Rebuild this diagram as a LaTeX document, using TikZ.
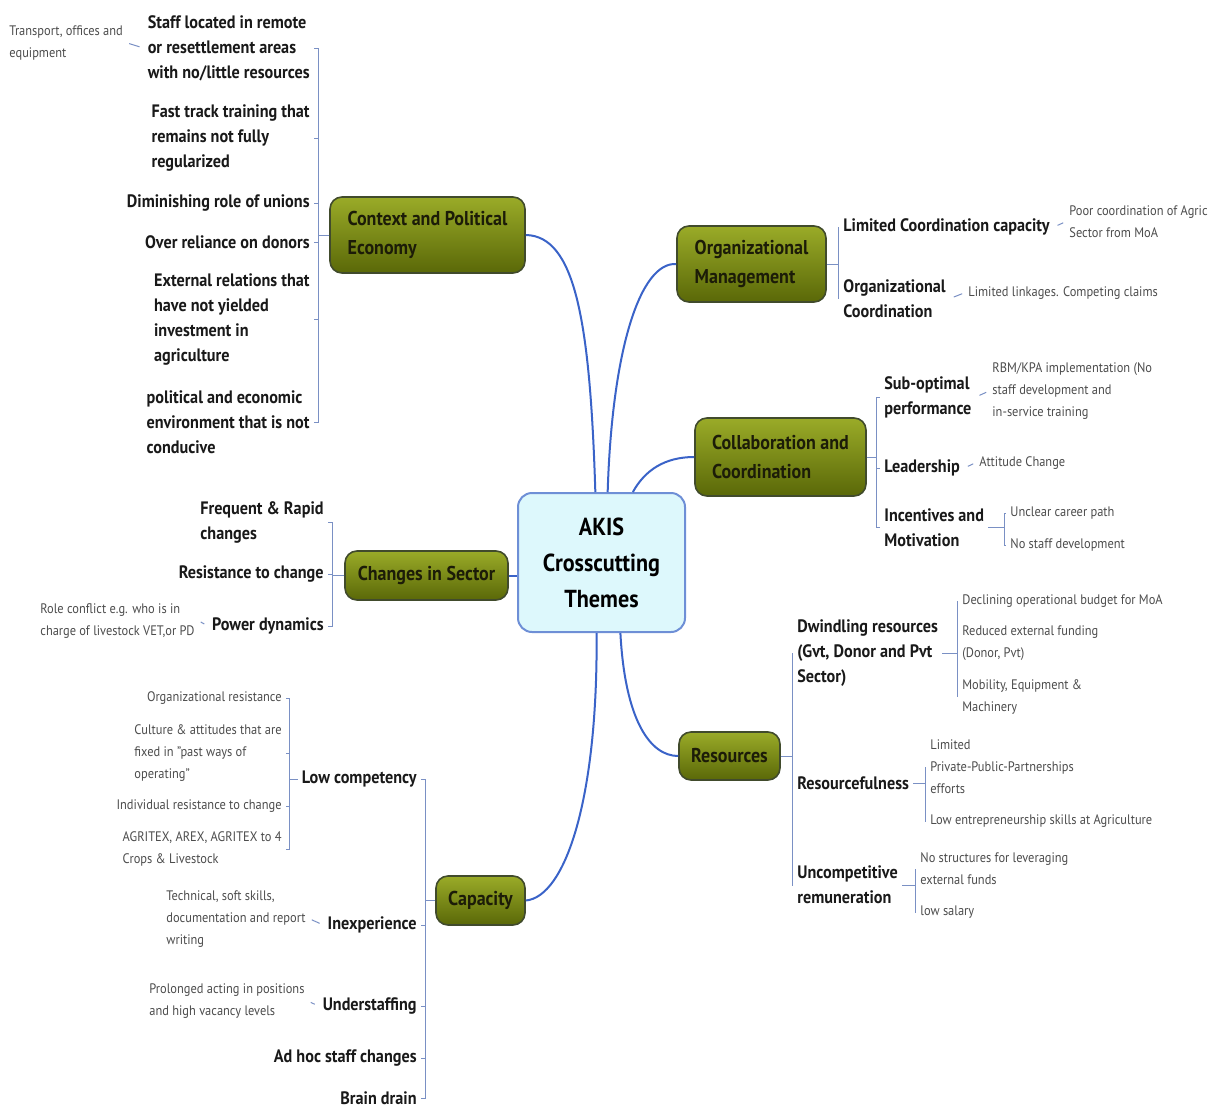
\documentclass[tikz,border=0pt]{standalone}
\usepackage{fontspec}
\setmainfont{PT Sans}[FakeStretch=0.9]
\usetikzlibrary{positioning}

\definecolor{hubfill}{HTML}{DDF8FC}
\definecolor{hubdraw}{HTML}{6E8FD6}
\definecolor{topictop}{HTML}{9AAB28}
\definecolor{topicbot}{HTML}{5A6808}
\definecolor{topicdraw}{HTML}{414B2C}
\definecolor{topictext}{HTML}{1C1C08}
\definecolor{spokeblue}{HTML}{3A63C8}
\definecolor{branchblue}{HTML}{7A90C4}

\tikzset{
  hub/.style={draw=hubdraw, line width=1pt, fill=hubfill, rounded corners=7pt,
    align=center, font=\fontsize{12.3}{18}\selectfont\bfseries,
    minimum width=83.5pt, minimum height=69.5pt},
  topic/.style={draw=topicdraw, line width=0.8pt, top color=topictop, bottom color=topicbot,
    rounded corners=6pt, align=left, text=topictext,
    font=\fontsize{10}{14.5}\selectfont\bfseries},
  sub/.style={inner sep=2pt, align=left, text=black!90,
    font=\fontsize{9}{12.5}\selectfont\bfseries},
  note/.style={inner sep=2pt, align=left, text=black!70,
    font=\fontsize{6.9}{11}\selectfont},
  spoke/.style={draw=spokeblue, line width=1pt},
  branch/.style={draw=branchblue, line width=0.5pt},
  tick/.style={branch, shorten <=2pt, shorten >=1pt},
}

\begin{document}
\begin{tikzpicture}[x=0.5pt, y=-0.5pt]
    \useasboundingbox (0,0) rectangle (1215,1108);

    % Central theme
    \node[hub] (akis) at (601.5,562.5) {AKIS\\Crosscutting\\Themes};

    % Main topics
    \node[topic, minimum width=97.5pt, minimum height=38pt] (ctx) at (427.5,235) {Context and Political\\Economy};
    \node[topic, minimum width=74.5pt, minimum height=38pt] (org) at (751.5,264) {Organizational\\Management};
    \node[topic, minimum width=85.5pt, minimum height=39pt] (collab) at (780.5,457) {Collaboration and\\Coordination};
    \node[topic, minimum width=81.5pt, minimum height=24.5pt] (chg) at (426.5,575.5) {Changes in Sector};
    \node[topic, minimum width=50.5pt, minimum height=24pt] (res) at (729.5,756) {Resources};
    \node[topic, minimum width=44.5pt, minimum height=24.5pt] (cap) at (480.5,900.5) {Capacity};

    % Spokes
    \draw[spoke] (akis.95) .. controls (590,320) and (575,236) .. (ctx.east);
    \draw[spoke] (akis.85.5) .. controls (612,350) and (640,262) .. (org.west);
    \draw[spoke] (akis.66) .. controls (645,470) and (665,457) .. (collab.west);
    \draw[spoke] (chg.east) -- (chg.east -| akis.west);
    \draw[spoke] (akis.-75) .. controls (625,720) and (650,756) .. (res.west);
    \draw[spoke] (akis.-94) .. controls (598,800) and (565,897) .. (cap.east);

    % Context and Political Economy
    \node[sub, anchor=east] (staff) at (314,48) {Staff located in remote\\or resettlement areas\\with no/little resources};
    \node[sub, anchor=east] (fast) at (314,138) {Fast track training that\\remains not fully\\regularized};
    \node[sub, anchor=east] (unions) at (314,203) {Diminishing role of unions};
    \node[sub, anchor=east] (donors) at (314,242) {Over reliance on donors};
    \node[sub, anchor=east] (extrel) at (314,319.5) {External relations that\\have not yielded\\investment in\\agriculture};
    \node[sub, anchor=east] (polenv) at (314,422) {political and economic\\environment that is not\\conducive};
    \node[note, anchor=west] (transport) at (5,43) {Transport, offices and\\equipment};
    \coordinate (ctxk) at (318,0);
    \foreach \c in {staff,fast,unions,donors,extrel,polenv}
      \draw[branch] (ctx.west) -- (ctx.west -| ctxk) |- (\c.east);
    \draw[tick] (staff.west) -- (transport.east);

    % Changes in Sector
    \node[sub, anchor=east] (freq) at (328,522) {Frequent \& Rapid\\changes};
    \node[sub, anchor=east] (resist) at (328,574) {Resistance to change};
    \node[sub, anchor=east] (power) at (328,626) {Power dynamics};
    \node[note, anchor=west] (role) at (36,621) {Role conflict e.g. who is in\\charge of livestock VET,or PD};
    \coordinate (chgk) at (332,0);
    \foreach \c in {freq,resist,power}
      \draw[branch] (chg.west) -- (chg.west -| chgk) |- (\c.east);
    \draw[tick] (power.west) -- (role.east);

    % Capacity
    \node[sub, anchor=east] (lowc) at (421,779) {Low competency};
    \node[sub, anchor=east] (inexp) at (421,925) {Inexperience};
    \node[sub, anchor=east] (under) at (421,1006) {Understaffing};
    \node[sub, anchor=east] (adhoc) at (421,1058) {Ad hoc staff changes};
    \node[sub, anchor=east] (brain) at (421,1098) {Brain drain};
    \coordinate (capk) at (425,0);
    \foreach \c in {lowc,inexp,under,adhoc,brain}
      \draw[branch] (cap.west) -- (cap.west -| capk) |- (\c.east);

    \node[note, anchor=east] (orgres) at (286,698) {Organizational resistance};
    \node[note, anchor=east] (culture) at (286,753) {Culture \& attitudes that are\\fixed in "past ways of\\operating"};
    \node[note, anchor=east] (indiv) at (286,806) {Individual resistance to change};
    \node[note, anchor=east] (agritex) at (286,849) {AGRITEX, AREX, AGRITEX to 4\\Crops \& Livestock};
    \coordinate (lowk) at (289,0);
    \foreach \c in {orgres,culture,indiv,agritex}
      \draw[branch] (lowc.west) -- (lowc.west -| lowk) |- (\c.east);

    \node[note, anchor=west] (tech) at (162,919) {Technical, soft skills,\\documentation and report\\writing};
    \node[note, anchor=west] (prolong) at (145,1001.5) {Prolonged acting in positions\\and high vacancy levels};
    \draw[tick] (inexp.west) -- (tech.east);
    \draw[tick] (under.west) -- (prolong.east);

    % Organizational Management
    \node[sub, anchor=west] (lcc) at (839,227) {Limited Coordination capacity};
    \node[sub, anchor=west] (orgc) at (839,298.5) {Organizational\\Coordination};
    \coordinate (orgk) at (838,0);
    \foreach \c in {lcc,orgc}
      \draw[branch] (org.east) -- (org.east -| orgk) |- (\c.west);
    \node[note, anchor=west] (pcoa) at (1065,222) {Poor coordination of Agric\\Sector from MoA};
    \node[note, anchor=west] (links) at (964,293) {Limited linkages. Competing claims};
    \draw[tick] (lcc.east) -- (pcoa.west);
    \draw[tick] (orgc.east) -- (links.west);

    % Collaboration and Coordination
    \node[sub, anchor=west] (subopt) at (880,397) {Sub-optimal\\performance};
    \node[sub, anchor=west] (lead) at (880,468) {Leadership};
    \node[sub, anchor=west] (incent) at (880,527.5) {Incentives and\\Motivation};
    \coordinate (colk) at (876,0);
    \foreach \c in {subopt,lead,incent}
      \draw[branch] (collab.east) -- (collab.east -| colk) |- (\c.west);
    \node[note, anchor=west] (rbm) at (988,391.5) {RBM/KPA implementation (No\\staff development and\\in-service training};
    \node[note, anchor=west] (attc) at (975,463) {Attitude Change};
    \draw[tick] (subopt.east) -- (rbm.west);
    \draw[tick] (lead.east) -- (attc.west);
    \node[note, anchor=west] (career) at (1006,513) {Unclear career path};
    \node[note, anchor=west] (nodev) at (1006,545) {No staff development};
    \coordinate (inck) at (1004,0);
    \foreach \c in {career,nodev}
      \draw[branch] (incent.east) -- (incent.east -| inck) |- (\c.west);

    % Resources
    \node[sub, anchor=west] (dwind) at (793,653.5) {Dwindling resources\\(Gvt, Donor and Pvt\\Sector)};
    \node[sub, anchor=west] (rful) at (793,783) {Resourcefulness};
    \node[sub, anchor=west] (uncomp) at (793,885) {Uncompetitive\\remuneration};
    \coordinate (resk) at (792,0);
    \foreach \c in {dwind,rful,uncomp}
      \draw[branch] (res.east) -- (res.east -| resk) |- (\c.west);

    \node[note, anchor=west] (budget) at (958,601) {Declining operational budget for MoA};
    \node[note, anchor=west] (funding) at (958,643) {Reduced external funding\\(Donor, Pvt)};
    \node[note, anchor=west] (mobil) at (958,696.5) {Mobility, Equipment \&\\Machinery};
    \coordinate (dwk) at (957,0);
    \foreach \c in {budget,funding,mobil}
      \draw[branch] (dwind.east) -- (dwind.east -| dwk) |- (\c.west);

    \node[note, anchor=west] (ppp) at (926,767) {Limited\\Private-Public-Partnerships\\efforts};
    \node[note, anchor=west] (entre) at (926,821) {Low entrepreneurship skills at Agriculture};
    \coordinate (rfk) at (925,0);
    \foreach \c in {ppp,entre}
      \draw[branch] (rful.east) -- (rful.east -| rfk) |- (\c.west);

    \node[note, anchor=west] (struct) at (916,869) {No structures for leveraging\\external funds};
    \node[note, anchor=west] (salary) at (916,912) {low salary};
    \coordinate (uck) at (915,0);
    \foreach \c in {struct,salary}
      \draw[branch] (uncomp.east) -- (uncomp.east -| uck) |- (\c.west);
\end{tikzpicture}
\end{document}
